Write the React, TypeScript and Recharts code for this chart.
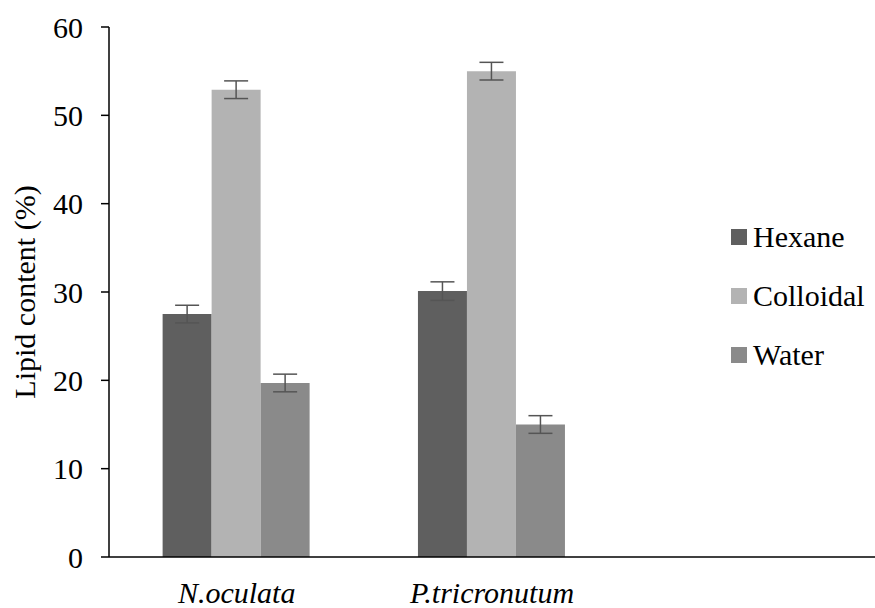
import React from 'react';
import { BarChart, Bar, XAxis, YAxis, ErrorBar, Legend } from 'recharts';

const categories = ['N.oculata', 'P.tricronutum', ''];
const hexane = [27.5, 30.1, null];
const colloidal = [52.9, 55.0, null];
const water = [19.7, 15.0, null];
const hexaneErr = [1.0, 1.05, null];
const colloidalErr = [1.0, 1.0, null];
const waterErr = [1.0, 1.0, null];
const yTicks = [0, 10, 20, 30, 40, 50, 60];

const seriesNames = ['Hexane', 'Colloidal', 'Water'];
const seriesColors = ['#5f5f5f', '#b3b3b3', '#8a8a8a'];

const data = categories.map((c, i) => ({
  name: c,
  Hexane: hexane[i],
  Colloidal: colloidal[i],
  Water: water[i],
  hexErr: hexaneErr[i],
  colErr: colloidalErr[i],
  watErr: waterErr[i],
}));

const FONT = '"Liberation Serif", "Times New Roman", serif';

const LegendContent = () => (
  <div style={{ fontFamily: FONT, fontSize: 30, color: '#000', lineHeight: 1 }}>
    {seriesNames.map((n, i) => (
      <div key={n} style={{ display: 'flex', alignItems: 'center', height: 59 }}>
        <span style={{ display: 'inline-block', width: 16, height: 16, background: seriesColors[i], marginRight: 6, flexShrink: 0 }} />
        <span style={{ whiteSpace: 'nowrap' }}>{n}</span>
      </div>
    ))}
  </div>
);

export default function App() {
  return (
    <div style={{ position: 'absolute', left: 0, top: 0, width: 875, height: 608, background: '#fff' }}>
      <BarChart
        width={875}
        height={608}
        data={data}
        margin={{ top: 27, right: 0, bottom: 0, left: 0 }}
        barCategoryGap="21%"
        barGap={0}
      >
        <XAxis
          dataKey="name"
          height={51}
          tickLine={false}
          axisLine={{ stroke: '#000', strokeWidth: 1.5 }}
          tick={{ fontFamily: FONT, fontSize: 30, fill: '#000', fontStyle: 'italic' }}
          tickMargin={19}
          interval={0}
        />
        <YAxis
          width={109}
          domain={[0, 60]}
          ticks={yTicks}
          tickSize={8}
          tickMargin={18}
          axisLine={{ stroke: '#000', strokeWidth: 1.5 }}
          tickLine={{ stroke: '#000', strokeWidth: 1.5 }}
          tick={{ fontFamily: FONT, fontSize: 30, fill: '#000' }}
          label={{
            value: 'Lipid content (%)',
            angle: -90,
            position: 'center',
            dx: -30,
            style: { fontFamily: FONT, fontSize: 30, fill: '#000', textAnchor: 'middle' },
          }}
        />
        <Legend
          layout="vertical"
          verticalAlign="middle"
          align="center"
          content={<LegendContent />}
          wrapperStyle={{ left: 731, top: 207.5, width: 144 }}
        />
        <Bar dataKey="Hexane" fill={seriesColors[0]} isAnimationActive={false}>
          <ErrorBar dataKey="hexErr" width={12} stroke="#555" strokeWidth={1.5} />
        </Bar>
        <Bar dataKey="Colloidal" fill={seriesColors[1]} isAnimationActive={false}>
          <ErrorBar dataKey="colErr" width={12} stroke="#555" strokeWidth={1.5} />
        </Bar>
        <Bar dataKey="Water" fill={seriesColors[2]} isAnimationActive={false}>
          <ErrorBar dataKey="watErr" width={12} stroke="#555" strokeWidth={1.5} />
        </Bar>
      </BarChart>
    </div>
  );
}
